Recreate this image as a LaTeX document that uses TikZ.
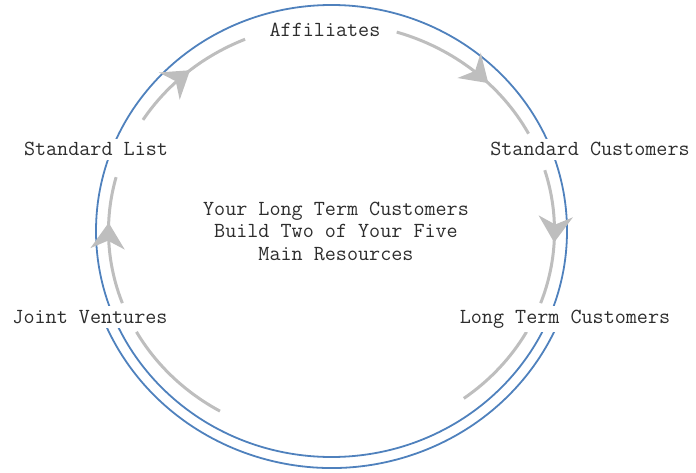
\documentclass[tikz,border=0pt]{standalone}
\usepackage{fontspec}
\usetikzlibrary{arrows.meta,decorations.markings}
\definecolor{ringblue}{RGB}{79,129,189}
\definecolor{flowgray}{RGB}{190,190,190}
\definecolor{txtgray}{RGB}{45,45,45}

\begin{document}
\begin{tikzpicture}[x=1pt, y=1pt,
    lbl/.style = {fill=white, text=txtgray, inner sep=4pt, font=\ttfamily\fontsize{21.5}{22.5}\selectfont},
    ring/.style = {draw=ringblue, line width=1.8pt},
    flow/.style = {draw=flowgray, line width=3pt},
    midarr/.style = {postaction={decorate, decoration={markings,
        mark=at position #1 with {\arrow[flowgray]{Stealth[length=26pt, width=34pt, inset=8pt]}}}}}]
  \useasboundingbox (0,0) rectangle (696,472);
  \coordinate (c) at (331.5,241);
  % blue ring
  \draw[ring] (c) ellipse [x radius=235.5pt, y radius=226pt];
  \draw[ring, shift={(c)}] (201.5:246pt and 237pt) arc [start angle=201.5, end angle=338.5, x radius=246pt, y radius=237pt];
  % gray flow
  \draw[flow, midarr=0.64, shift={(c)}] (200.3:223pt and 208pt) arc [start angle=200.3, end angle=165, x radius=223pt, y radius=208pt];
  \draw[flow, midarr=0.52, shift={(c)}] (147.7:223pt and 208pt) arc [start angle=147.7, end angle=112.8, x radius=223pt, y radius=208pt];
  \draw[flow, midarr=0.62, shift={(c)}] (73:223pt and 208pt) arc [start angle=73, end angle=27.9, x radius=223pt, y radius=208pt];
  \draw[flow, midarr=0.54, shift={(c)}] (17:223pt and 208pt) arc [start angle=17, end angle=-20.3, x radius=223pt, y radius=208pt];
  \draw[flow, shift={(c)}] (-29:223pt and 208pt) arc [start angle=-29, end angle=-53.6, x radius=223pt, y radius=208pt];
  \draw[flow, shift={(c)}] (240:223pt and 208pt) arc [start angle=240, end angle=209, x radius=223pt, y radius=208pt];
  % labels
  \node[lbl, anchor=base] (aff) at (325,435) {Affiliates};
  \node[lbl, anchor=base] (stdcust) at (590,316) {Standard Customers};
  \node[lbl, anchor=base] (ltcust) at (565,148.5) {Long Term Customers};
  \node[lbl, anchor=base] (jv) at (90,148.5) {Joint Ventures};
  \node[lbl, anchor=base] (stdlist) at (96,316) {Standard List};
  \node[lbl, fill=none, align=center] (core) at (336,241) {Your Long Term Customers\\Build Two of Your Five\\Main Resources};
\end{tikzpicture}
\end{document}
